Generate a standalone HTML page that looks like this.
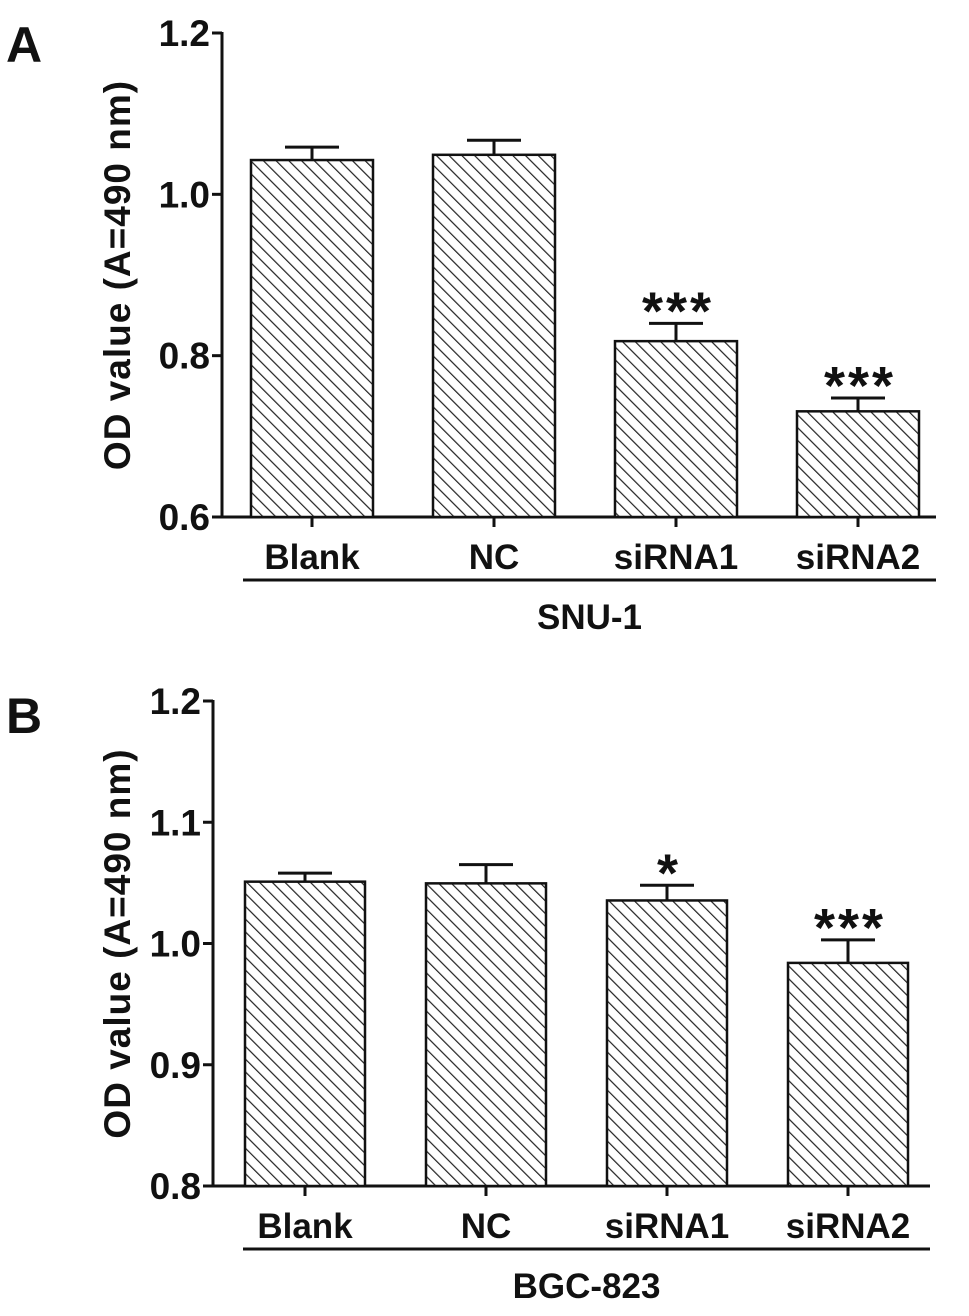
<!DOCTYPE html>
<html><head><meta charset="utf-8"><style>
body{margin:0;background:#fff}
text{font-family:"Liberation Sans",Arial,sans-serif;font-weight:bold;fill:#111}
</style></head><body>
<svg id="svg" width="969" height="1311" viewBox="0 0 969 1311" xmlns="http://www.w3.org/2000/svg">
<defs>
<pattern id="hatch" patternUnits="userSpaceOnUse" width="9" height="9" patternTransform="rotate(-45)">
<rect width="9" height="9" fill="#fff"/><line x1="0" y1="0" x2="0" y2="9" stroke="#222" stroke-width="2.4"/>
</pattern>
</defs>
</svg>
<script>
const categories=["Blank","NC","siRNA1","siRNA2"];
const valuesA=[1.0425,1.049,0.818,0.731];
const errorsA=[0.016,0.018,0.022,0.0165];
const starsA=["","","***","***"];
const ticksA=[0.6,0.8,1.0,1.2];
const valuesB=[1.051,1.0496,1.0355,0.984];
const errorsB=[0.007,0.0155,0.0125,0.019];
const starsB=["","","*","***"];
const ticksB=[0.8,0.9,1.0,1.1,1.2];
const svg=document.getElementById('svg');
const NS='http://www.w3.org/2000/svg';
function mk(t,a,txt){const e=document.createElementNS(NS,t);for(const k in a)e.setAttribute(k,a[k]);if(txt!==undefined)e.textContent=txt;svg.appendChild(e);return e;}
function panel(p){
  const y=v=>p.y0-(v-p.min)/(p.max-p.min)*(p.y0-p.y1);
  const x=i=>p.c0+i*p.step;
  let e;
  e=mk('text',{x:p.lx,y:p.ly,'font-size':50},p.letter);
  
  
  e=mk('line',{x1:p.ax,y1:p.y1-1,x2:p.ax,y2:p.y0+1,stroke:'#111','stroke-width':3});
  
  
  e=mk('line',{x1:p.ax,y1:p.y0,x2:p.xend,y2:p.y0,stroke:'#111','stroke-width':3});
  
  
  p.ticks.forEach(t=>{
    e=mk('line',{x1:p.ax-10,y1:y(t),x2:p.ax,y2:y(t),stroke:'#111','stroke-width':3});
    
    
    e=mk('text',{x:p.ax-12,y:y(t)+13,'font-size':37,'text-anchor':'end'},t.toFixed(1));
    
    
  });
  e=mk('text',{x:0,y:0,'font-size':37,'letter-spacing':1,'text-anchor':'middle',transform:`translate(${p.tx},${(p.y0+p.y1)/2}) rotate(-90)`},'OD value  (A=490 nm)');
  
  
  categories.forEach((c,i)=>{
    const cx=x(i),top=y(p.vals[i]),et=y(p.vals[i]+p.errs[i]);
    e=mk('line',{x1:cx,y1:et,x2:cx,y2:top,stroke:'#111','stroke-width':3});
    
    
    e=mk('line',{x1:cx-27,y1:et,x2:cx+27,y2:et,stroke:'#111','stroke-width':3});
    
    
    e=mk('rect',{x:cx-p.bw/2,y:top,width:p.bw,height:p.y0-top,fill:'url(#hatch)',stroke:'#111','stroke-width':2.5});
    
    
    e=mk('line',{x1:cx,y1:p.y0,x2:cx,y2:p.y0+10,stroke:'#111','stroke-width':3});
    
    
    e=mk('text',{x:cx,y:p.y0+52,'font-size':35,'text-anchor':'middle'},c);
    
    
    if(p.stars[i]){
      e=mk('text',{x:cx+2,y:et+6,'font-size':54,'letter-spacing':3,'text-anchor':'middle'},p.stars[i]);
      
      
    }
  });
  e=mk('line',{x1:243,y1:p.y0+63,x2:p.xend,y2:p.y0+63,stroke:'#111','stroke-width':3});
  
  
  e=mk('text',{x:(243+p.xend)/2,y:p.y0+112,'font-size':35,'text-anchor':'middle'},p.group);
  
  
}
panel({letter:'A',lx:6,ly:62,ax:222,y0:517,y1:33,min:0.6,max:1.2,c0:312,step:182,bw:122,xend:936,tx:130,ticks:ticksA,vals:valuesA,errs:errorsA,stars:starsA,group:'SNU-1'});
panel({letter:'B',lx:6,ly:733,ax:213,y0:1186,y1:701,min:0.8,max:1.2,c0:305,step:181,bw:120,xend:930,tx:130,ticks:ticksB,vals:valuesB,errs:errorsB,stars:starsB,group:'BGC-823'});
</script>
</body></html>
